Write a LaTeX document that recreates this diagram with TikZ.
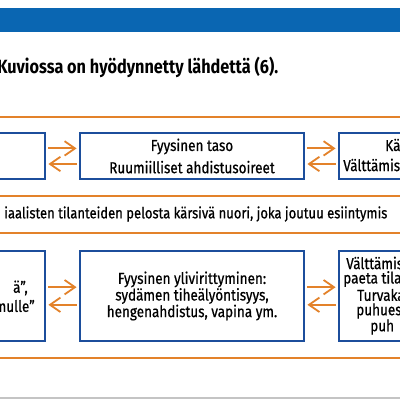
\documentclass[tikz,border=0pt]{standalone}
\usepackage{fontspec}
\setmainfont{Fira Sans}[FakeStretch=0.85]
\usepackage{xcolor}
\usetikzlibrary{positioning, arrows.meta}

\definecolor{barblue}{HTML}{0A66B2}
\definecolor{boxblue}{HTML}{1C4E9C}
\definecolor{lineorange}{HTML}{E3822A}
\definecolor{greyline}{HTML}{C4C4C4}
\newcommand{\bodyfont}{\fontsize{11.3}{11.8}\selectfont\addfontfeatures{FakeBold=0.6}}

\begin{document}
\begin{tikzpicture}[
    x=0.025cm, y=-0.025cm,
    box/.style={draw=boxblue, line width=0.5mm, minimum width=56mm,
                inner sep=0pt, align=center, font=\bodyfont},
    rowa/.style={box, minimum height=11.5mm},
    rowb/.style={box, minimum height=22.5mm},
    txt/.style={inner sep=0pt, font=\bodyfont},
    arr/.style={-{Straight Barb[length=2.6mm, width=3.6mm]}, draw=lineorange,
                line width=0.45mm, shorten <=0.6mm, shorten >=0.6mm},
    frame/.style={draw=lineorange, line width=0.5mm},
]
    \useasboundingbox (0,0) rectangle (400,400);
    \fill[white] (0,0) rectangle (400,400);
    \clip (0,0) rectangle (400,400);

    % header
    \fill[barblue] (-10,8) rectangle (410,32);
    \node[inner sep=0pt, anchor=west, font=\fontsize{13.6}{15}\selectfont\bfseries] (src) at (-3,67)
        {Kuviossa on hyödynnetty lähdettä (6).};

    % frames
    \draw[frame] (-20,117) rectangle (420,196);
    \draw[frame] (-20,233) rectangle (420,358);
    \node[txt, anchor=west, font=\fontsize{10.9}{12}\selectfont\addfontfeatures{FakeBold=0.6}] (who) at (4,214)
        {iaalisten tilanteiden pelosta kärsivä nuori, joka joutuu esiintymis};

    % upper row
    \node[rowa] (ka) at (-67,156) {};
    \node[rowa] (kb) at (192,156) {Fyysinen taso\\[4pt]Ruumiilliset ahdistusoireet};
    \node[rowa] (kc) at (451,156) {};
    \node[txt, anchor=west] (kc1) at (385,145) {Kä};
    \node[txt, anchor=west] (kc2) at (343,165) {Välttämis};

    % lower row
    \node[rowb] (la) at (-67,296) {};
    \node[rowb] (lb) at (192,296) {Fyysinen ylivirittyminen:\\sydämen tiheälyöntisyys,\\hengenahdistus, vapina ym.};
    \node[rowb] (lc) at (451,296) {};
    \node[txt, anchor=east] (la1) at (28,288) {ä”,};
    \node[txt, anchor=east] (la2) at (35,306) {mulle”};
    \node[txt, anchor=west] (lc1) at (346,263) {Välttämis};
    \node[txt, anchor=west] (lc2) at (343,279) {paeta tila};
    \node[txt, anchor=west] (lc3) at (357,295) {Turvaka};
    \node[txt, anchor=west] (lc4) at (356,311) {puhues};
    \node[txt, anchor=west] (lc5) at (370,327) {puh};

    \draw[arr] ([yshift=1.9mm]ka.east) -- ([yshift=1.9mm]kb.west);
    \draw[arr] ([yshift=-2mm]kb.west) -- ([yshift=-2mm]ka.east);
    \draw[arr] ([yshift=1.9mm]kb.east) -- ([yshift=1.9mm]kc.west);
    \draw[arr] ([yshift=-2mm]kc.west) -- ([yshift=-2mm]kb.east);

    \draw[arr] ([yshift=2.2mm]la.east) -- ([yshift=2.2mm]lb.west);
    \draw[arr] ([yshift=-2.2mm]lb.west) -- ([yshift=-2.2mm]la.east);
    \draw[arr] ([yshift=2.2mm]lb.east) -- ([yshift=2.2mm]lc.west);
    \draw[arr] ([yshift=-2.2mm]lc.west) -- ([yshift=-2.2mm]lb.east);

    \draw[greyline, line width=0.5mm] (-10,398) -- (410,398);
\end{tikzpicture}
\end{document}
